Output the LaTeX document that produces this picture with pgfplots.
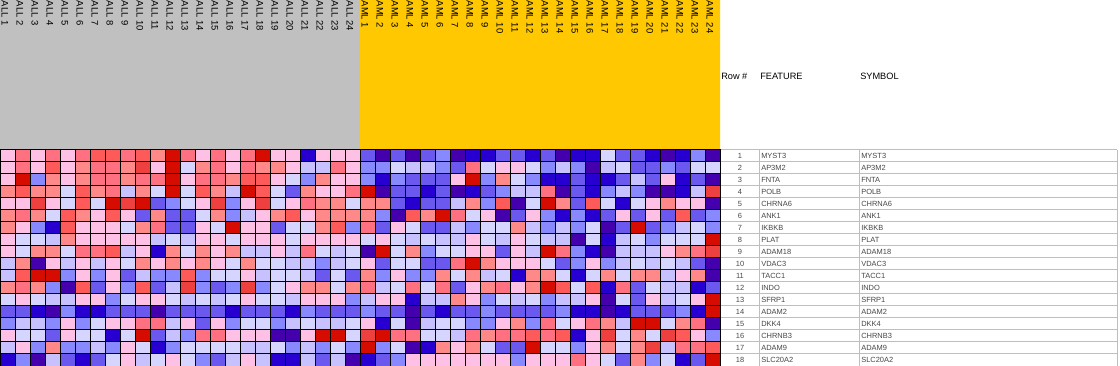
\documentclass[border=0pt]{standalone}
\usepackage{pgfplots}
\pgfplotsset{compat=1.18}
\usepackage{pgfplotstable}
\usepackage{fontspec}
\setmainfont{Liberation Sans}
\definecolor{hdrgray}{RGB}{192,192,192}
\definecolor{hdryellow}{RGB}{255,200,0}
\definecolor{gridgray}{RGB}{190,190,190}
\definecolor{txtgray}{RGB}{70,70,70}
\tikzset{
  rowtxt/.style={inner sep=0pt, text=txtgray, font=\fontsize{5.6}{6}\selectfont},
  coltxt/.style={rotate=-90, anchor=base west, inner sep=0pt, font=\fontsize{7.1}{8}\selectfont},
  hdrtxt/.style={anchor=west, inner sep=0pt, font=\fontsize{6.9}{8}\selectfont},
}

% 18 genes (rows) x 48 samples (ALL 1-24, AML 1-24); values = colour level 0 (deep blue) ... 11 (deep red)
\pgfplotstableread[header=false]{
6 8 6 8 6 8 9 9 8 9 7 11 8 6 8 6 8 11 6 6 1 6 6 6 2 0 2 0 2 3 0 1 1 2 2 1 2 0 1 1 5 2 2 1 0 1 3 0
6 8 6 9 6 7 8 8 7 10 6 11 5 7 8 6 8 7 7 6 4 4 8 6 3 3 5 4 4 3 2 8 5 6 6 5 3 4 3 0 4 5 2 2 3 2 5 5
6 11 3 7 6 7 8 8 7 8 8 11 6 8 8 7 9 9 6 5 3 7 6 6 3 1 3 2 2 2 6 11 3 7 5 3 1 1 2 1 1 2 4 2 6 1 2 0
7 9 7 7 5 9 7 8 4 7 5 11 5 9 7 4 11 9 5 2 7 6 6 8 11 0 2 2 1 2 0 1 2 3 4 4 8 0 2 1 3 4 3 0 0 1 4 10
6 6 10 6 5 9 5 11 10 11 2 3 5 6 10 3 6 10 5 6 8 7 7 5 7 7 2 1 2 2 4 7 3 9 0 5 11 7 2 9 5 1 5 6 7 6 6 0
7 8 7 5 9 7 6 9 6 2 7 2 2 5 7 3 4 6 7 9 6 7 7 7 7 3 0 9 7 11 8 5 6 0 2 6 3 1 3 1 2 6 2 6 2 9 2 3
7 6 3 1 9 6 6 6 5 7 8 2 2 6 5 11 6 6 2 5 5 7 9 3 8 2 6 5 2 2 4 3 5 5 7 4 3 4 3 5 0 2 11 2 3 4 5 3
6 5 5 4 7 6 6 6 6 6 4 5 4 6 6 5 6 6 6 5 6 6 6 6 5 6 5 4 5 4 4 6 5 4 6 5 4 4 0 5 1 4 5 3 5 5 5 11
6 5 7 7 5 8 8 9 4 6 1 7 5 7 6 7 4 4 6 4 8 5 4 5 0 11 5 7 3 5 5 6 6 2 6 4 11 8 3 1 0 4 4 4 6 7 8 10
4 7 0 6 4 6 4 6 5 7 6 7 6 7 6 5 7 5 5 4 4 3 4 5 6 2 5 5 2 2 8 11 7 6 6 6 5 2 3 6 3 4 5 4 5 4 2 0
4 9 11 11 3 6 3 6 2 4 3 3 9 3 5 5 6 4 5 5 4 2 5 2 7 3 6 3 3 7 5 7 4 5 1 7 7 5 1 5 7 5 7 7 4 6 7 0
7 8 7 3 0 9 2 6 3 9 2 4 10 3 2 3 10 3 5 6 7 7 5 7 8 4 5 8 5 8 2 6 7 8 6 7 11 9 5 9 1 8 2 5 4 4 1 2
5 6 5 4 4 6 6 3 5 6 6 5 4 5 4 5 6 5 5 4 6 6 6 3 4 6 6 1 4 4 7 6 3 5 4 5 3 4 4 6 0 5 2 6 4 5 6 11
2 2 1 0 3 1 1 2 2 2 0 2 2 2 2 1 2 2 2 1 3 2 2 2 3 2 2 0 2 1 2 2 3 2 2 2 2 3 1 1 0 1 2 2 2 3 1 11
3 4 4 3 6 3 5 6 6 8 8 4 6 2 6 3 5 5 3 4 5 4 4 5 6 1 5 0 4 5 5 3 3 6 7 3 8 5 6 8 7 4 11 11 5 7 8 0
6 5 5 2 6 5 5 1 5 11 2 4 3 8 8 6 6 6 0 0 6 11 11 5 10 11 8 8 5 5 4 8 7 8 8 9 8 9 1 6 10 5 7 5 10 9 6 3
4 6 3 7 3 3 4 3 6 5 1 3 5 5 5 5 4 4 5 3 4 3 5 3 11 3 5 0 1 7 6 7 5 2 2 11 5 5 3 6 7 5 7 10 4 8 8 9
1 3 0 4 2 1 2 5 6 4 5 6 5 3 2 4 6 4 1 1 4 2 4 0 1 2 3 6 6 6 6 6 6 6 3 6 6 6 8 6 5 2 7 3 5 1 2 11
}\heat

\begin{document}
\begin{tikzpicture}
\begin{axis}[
  scale only axis, width=840pt, height=274.5pt,
  xmin=0, xmax=1120, ymin=0, ymax=366, y dir=reverse,
  hide axis, clip=false,
  colormap={gp}{rgb255=(69,0,173) rgb255=(39,0,209) rgb255=(107,88,239) rgb255=(136,136,255)
    rgb255=(199,193,255) rgb255=(213,213,255) rgb255=(255,192,229) rgb255=(255,137,137)
    rgb255=(255,112,128) rgb255=(255,90,90) rgb255=(239,64,64) rgb255=(214,12,0)},
  point meta min=0, point meta max=11,
]
% header blocks
\addplot[fill=hdrgray, draw=none] coordinates {(0,0) (360,0) (360,150) (0,150) (0,0)};
\addplot[fill=hdryellow, draw=none] coordinates {(360,0) (720,0) (720,150) (360,150) (360,0)};

% table grid
\pgfplotsinvokeforeach{0,...,18}{
  \draw[gridgray, line width=0.75pt] (axis cs:720,{150+12*#1}) -- (axis cs:1117,{150+12*#1});
}
\draw[gridgray, line width=0.75pt] (axis cs:759,150) -- (axis cs:759,366);
\draw[gridgray, line width=0.75pt] (axis cs:859,150) -- (axis cs:859,366);
\draw[gridgray, line width=0.75pt] (axis cs:1117,150) -- (axis cs:1117,366);

% heat map cells
\pgfplotsinvokeforeach{0,...,47}{
  \addplot[scatter, only marks, mark=square*, mark size=4.5pt,
    mark options={xscale=1.25, line width=0.75pt},
    scatter/use mapped color={draw=black, fill=mapped color},
    point meta=explicit]
    table[x expr={7.5+15*#1}, y expr={156+12*\coordindex}, meta index=#1] {\heat};
}

% column labels
\pgfplotsinvokeforeach{1,...,24}{
  \node[coltxt] at (axis cs:{15*#1-13.5},0.5) {ALL #1};
  \node[coltxt] at (axis cs:{360+15*#1-13.5},0.5) {AML #1};
}

% table headers
\node[hdrtxt] at (axis cs:721,76) {Row \#};
\node[hdrtxt] at (axis cs:760,76) {FEATURE};
\node[hdrtxt] at (axis cs:860,76) {SYMBOL};

% table rows
\foreach \r/\g in {1/MYST3,2/AP3M2,3/FNTA,4/POLB,5/CHRNA6,6/ANK1,7/IKBKB,8/PLAT,9/ADAM18,
  10/VDAC3,11/TACC1,12/INDO,13/SFRP1,14/ADAM2,15/DKK4,16/CHRNB3,17/ADAM9,18/SLC20A2}{
  \edef\tmp{
    \noexpand\node[rowtxt] at (axis cs:740,\the\numexpr 144+12*\r\relax) {\r};
    \noexpand\node[rowtxt, anchor=west] at (axis cs:761,\the\numexpr 144+12*\r\relax) {\g};
    \noexpand\node[rowtxt, anchor=west] at (axis cs:861,\the\numexpr 144+12*\r\relax) {\g};
  }
  \tmp
}
\end{axis}
\pgfresetboundingbox
\path[use as bounding box] (current axis.south west) rectangle (current axis.north east);
\end{tikzpicture}
\end{document}
